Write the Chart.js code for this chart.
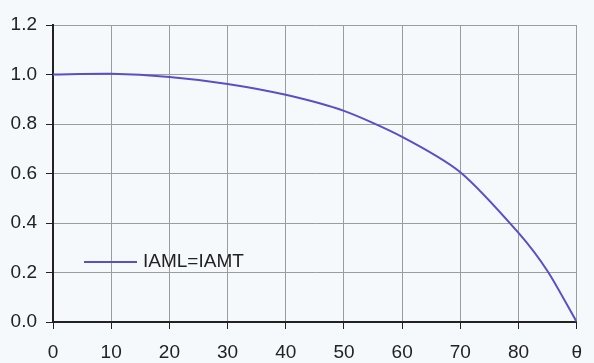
<!DOCTYPE html>
<html lang="en">
<head>
    <meta charset="UTF-8">
    <title>IAM curve</title>
    <script src="https://cdn.jsdelivr.net/npm/chart.js@4.4.1/dist/chart.umd.min.js"></script>
    <style>
        html, body { margin: 0; padding: 0; background: #f5f9fc; }
        #wrap { width: 594px; height: 363px; }
    </style>
</head>
<body>
    <div id="wrap"><canvas id="myChart" width="594" height="363"></canvas></div>
    <script>
        // incidence angle (deg) and modifier values
        const angles = [0, 10, 20, 30, 40, 50, 60, 70, 80, 85, 90];
        const iam = [1.0, 1.003, 0.99, 0.962, 0.918, 0.853, 0.748, 0.605, 0.36, 0.205, 0.0];
        const seriesLabel = 'IAML=IAMT';
        const lastTickLabel = 'θ';

        const points = angles.map((a, i) => ({ x: a, y: iam[i] }));

        // legend drawn inside the plot, like the original
        const innerLegend = {
            id: 'innerLegend',
            afterDraw(chart) {
                const c = chart.ctx;
                const ds = chart.data.datasets[0];
                const y = 262;
                c.save();
                c.strokeStyle = ds.borderColor;
                c.lineWidth = 2;
                c.beginPath();
                c.moveTo(84, y);
                c.lineTo(137, y);
                c.stroke();
                c.fillStyle = '#222';
                c.font = '19px "Liberation Sans", Arial, sans-serif';
                c.textBaseline = 'middle';
                c.fillText(ds.label, 143, y);
                c.restore();
            }
        };

        const ctx = document.getElementById('myChart');
        new Chart(ctx, {
            type: 'line',
            data: {
                datasets: [{
                    label: seriesLabel,
                    data: points,
                    borderColor: '#5a4fc6',
                    borderWidth: 2,
                    pointRadius: 0,
                    tension: 0.25,
                    fill: false
                }]
            },
            options: {
                responsive: false,
                animation: false,
                layout: { padding: { left: 0, right: 12, top: 25, bottom: 0 } },
                plugins: { legend: { display: false }, tooltip: { enabled: false } },
                scales: {
                    x: {
                        type: 'linear',
                        min: 0,
                        max: 90,
                        ticks: {
                            stepSize: 10,
                            color: '#222',
                            padding: 12,
                            maxRotation: 0,
                            font: { family: '"Liberation Sans", Arial, sans-serif', size: 19 },
                            callback: v => v === 90 ? lastTickLabel : v
                        },
                        grid: { color: '#9c9c9c', lineWidth: 1, tickLength: 7, tickColor: '#222' },
                        border: { color: '#222', width: 2 },
                        afterFit: s => { s.height = 41; }
                    },
                    y: {
                        min: 0,
                        max: 1.2,
                        ticks: {
                            stepSize: 0.2,
                            color: '#222',
                            padding: 9,
                            font: { family: '"Liberation Sans", Arial, sans-serif', size: 19 },
                            callback: v => v.toFixed(1)
                        },
                        grid: { color: '#9c9c9c', lineWidth: 1, tickLength: 7, tickColor: '#222' },
                        border: { color: '#222', width: 2 },
                        afterFit: s => { s.width = 53; }
                    }
                }
            },
            plugins: [innerLegend]
        });
    </script>
</body>
</html>
